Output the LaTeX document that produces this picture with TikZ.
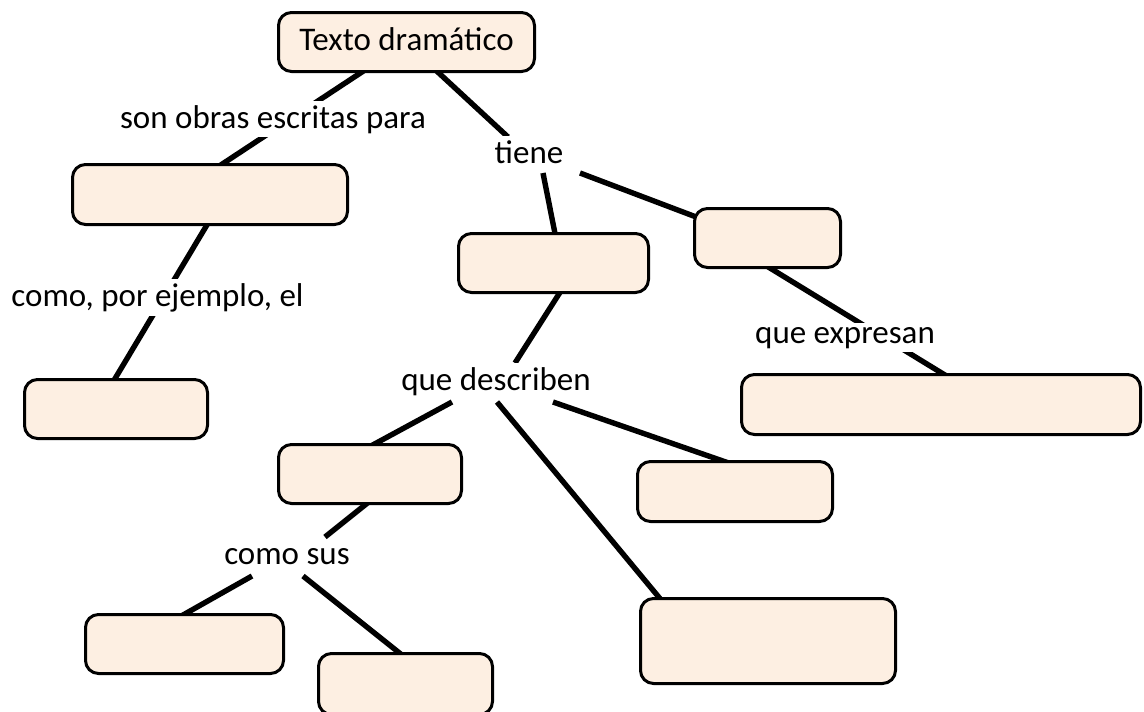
\documentclass[tikz,border=0pt]{standalone}
\usepackage{fontspec}
\setmainfont{Carlito}
\usetikzlibrary{backgrounds}
\definecolor{boxfill}{RGB}{253,239,226}
\tikzset{
  box/.style={draw, line width=3pt, rounded corners=13pt, fill=boxfill, inner sep=0pt,
              font=\fontsize{33}{40}\selectfont},
  lbl/.style={fill=white, inner xsep=2pt, inner ysep=4pt, anchor=base,
              font=\fontsize{33}{40}\selectfont},
  conn/.style={line width=5.4pt, line cap=butt},
}
\begin{document}
\begin{tikzpicture}[x=1pt,y=-1pt]
\useasboundingbox (0,0) rectangle (1144,712);
% boxes
\node[box, minimum width=256pt, minimum height=59pt, text depth=6pt] (t) at (406.5,42) {Texto dramático};
\node[box, minimum width=275pt, minimum height=60pt] (a) at (210,194.5) {};
\node[box, minimum width=183pt, minimum height=59pt] (b) at (116,409) {};
\node[box, minimum width=190pt, minimum height=59pt] (c) at (553.5,263) {};
\node[box, minimum width=146pt, minimum height=59pt] (d) at (767.5,238) {};
\node[box, minimum width=399pt, minimum height=60pt] (e) at (941,404.5) {};
\node[box, minimum width=183pt, minimum height=59pt] (f) at (370,474) {};
\node[box, minimum width=195pt, minimum height=60pt] (g) at (735,491.5) {};
\node[box, minimum width=255pt, minimum height=85pt] (h) at (768,641) {};
\node[box, minimum width=198pt, minimum height=59pt] (i) at (184.5,644) {};
\node[box, minimum width=174pt, minimum height=61pt] (j) at (405.5,684) {};
% labels
\node[lbl] (son) at (273,128) {son obras escritas para};
\node[lbl] (tiene) at (529,163) {tiene};
\node[lbl] (como) at (157.5,306) {como, por ejemplo, el};
\node[lbl] (qe) at (845,343) {que expresan};
\node[lbl] (qd) at (496,390) {que describen};
\node[lbl] (cs) at (287,564) {como sus};
% connectors
\begin{pgfonlayer}{background}
\draw[conn] ([shift={(-40,27)}]t.center) -- ([shift={(7,-27)}]a.center);
\draw[conn] ([shift={(28,27)}]t.center) -- ([shift={(-21,-26)}]tiene.base);
\draw[conn] ([shift={(14,10)}]tiene.base) -- ([shift={(2,-27)}]c.center);
\draw[conn] ([shift={(51,10)}]tiene.base) -- ([shift={(-70,-20.5)}]d.center);
\draw[conn] ([shift={(-1,27)}]a.center) -- ([shift={(-3,-27)}]b.center);
\draw[conn] ([shift={(8,27)}]c.center) -- ([shift={(19,-27)}]qd.base);
\draw[conn] ([shift={(-2.5,27)}]d.center) -- ([shift={(8,-27)}]e.center);
\draw[conn] ([shift={(-44,12)}]qd.base) -- ([shift={(-1,-27)}]f.center);
\draw[conn] ([shift={(1,12)}]qd.base) -- ([shift={(-106,-40)}]h.center);
\draw[conn] ([shift={(57,12)}]qd.base) -- ([shift={(-2,-27)}]g.center);
\draw[conn] ([shift={(0,27)}]f.center) -- ([shift={(38,-27)}]cs.base);
\draw[conn] ([shift={(-35,12)}]cs.base) -- ([shift={(-5,-27)}]i.center);
\draw[conn] ([shift={(16,12)}]cs.base) -- ([shift={(-1,-27)}]j.center);
\end{pgfonlayer}
\end{tikzpicture}
\end{document}
